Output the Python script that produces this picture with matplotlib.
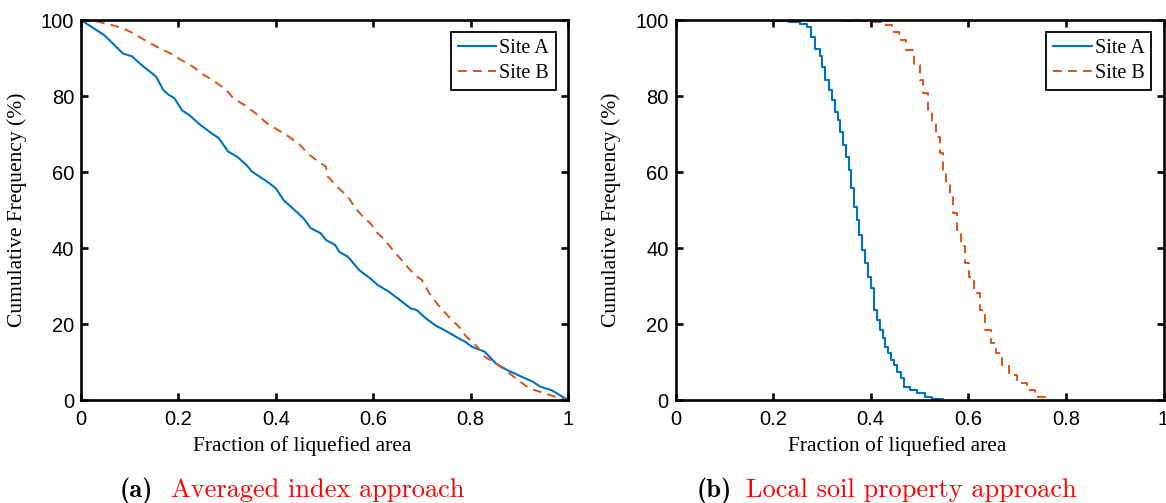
import matplotlib
matplotlib.use("Agg")
import matplotlib.pyplot as plt

# Panel (a): averaged index approach
a_siteA_x = [0.0, 0.048, 0.086, 0.105, 0.124, 0.154, 0.169, 0.18, 0.192, 0.207, 0.222, 0.245, 0.268, 0.283,
             0.302, 0.321, 0.34, 0.351, 0.382, 0.40, 0.416, 0.435, 0.457, 0.472, 0.492, 0.503, 0.522, 0.53,
             0.548, 0.571, 0.594, 0.609, 0.632, 0.655, 0.677, 0.689, 0.708, 0.727, 0.746, 0.776, 0.788,
             0.803, 0.829, 0.852, 0.875, 0.905, 0.928, 0.943, 0.966, 1.0]
a_siteA_y = [100, 96.0, 91.2, 90.4, 88.2, 85.1, 81.6, 80.3, 79.4, 76.3, 75.0, 72.4, 70.2, 68.9,
             65.4, 64.0, 61.8, 60.1, 57.5, 55.7, 52.6, 50.4, 47.8, 45.2, 43.9, 42.1, 40.8, 39.0,
             37.7, 34.2, 32.0, 30.3, 28.5, 26.3, 24.1, 23.7, 21.5, 19.7, 18.4, 16.2, 15.4,
             14.0, 12.7, 9.6, 7.9, 6.1, 4.8, 3.5, 2.6, 0.0]
a_siteB_x = [0.0, 0.033, 0.063, 0.086, 0.108, 0.131, 0.162, 0.184, 0.20, 0.23, 0.253, 0.275, 0.298, 0.313,
             0.336, 0.359, 0.382, 0.404, 0.427, 0.45, 0.465, 0.488, 0.503, 0.507, 0.526, 0.548, 0.564,
             0.579, 0.594, 0.609, 0.624, 0.64, 0.655, 0.67, 0.685, 0.70, 0.715, 0.731, 0.746, 0.761,
             0.776, 0.791, 0.814, 0.829, 0.852, 0.875, 0.897, 0.92, 0.951, 0.973, 1.0]
a_siteB_y = [100, 99.6, 98.7, 97.8, 96.5, 94.7, 92.5, 91.2, 89.9, 87.7, 85.5, 83.8, 81.6, 79.4,
             77.6, 75.4, 72.8, 71.1, 69.3, 67.1, 64.9, 62.7, 61.4, 58.8, 56.1, 53.5, 50.4,
             48.2, 46.5, 43.9, 42.1, 39.5, 37.3, 35.1, 32.9, 31.6, 28.1, 25.4, 23.2, 21.1,
             19.3, 16.7, 14.0, 11.4, 9.6, 7.5, 5.3, 3.1, 1.8, 0.9, 0.0]

# Panel (b): local soil property approach
b_siteA_x = [0.20, 0.232, 0.255, 0.27, 0.277, 0.286, 0.296, 0.301, 0.307, 0.315, 0.32, 0.326, 0.334,
             0.337, 0.343, 0.349, 0.356, 0.36, 0.366, 0.372, 0.377, 0.383, 0.389, 0.394, 0.40, 0.407,
             0.413, 0.42, 0.425, 0.43, 0.435, 0.441, 0.447, 0.454, 0.462, 0.469, 0.48, 0.495, 0.511,
             0.526, 0.548]
b_siteA_y = [99.8, 99.6, 98.9, 98.2, 95.6, 92.5, 90.4, 87.7, 84.2, 81.6, 78.9, 75.9, 73.7,
             70.6, 67.1, 64.0, 60.5, 55.7, 50.9, 47.4, 43.4, 39.5, 36.0, 32.5, 29.4, 23.7,
             21.1, 18.4, 16.2, 14.0, 12.3, 10.5, 9.2, 7.5, 5.7, 3.5, 2.6, 1.8, 0.9,
             0.3, 0.0]
b_siteB_x = [0.345, 0.367, 0.398, 0.428, 0.443, 0.458, 0.473, 0.488, 0.50, 0.507, 0.518, 0.526, 0.533,
             0.541, 0.548, 0.554, 0.562, 0.569, 0.577, 0.586, 0.593, 0.602, 0.612, 0.623, 0.634, 0.646,
             0.657, 0.669, 0.684, 0.699, 0.721, 0.736, 0.759]
b_siteB_y = [99.8, 99.7, 99.4, 98.7, 96.9, 94.7, 92.1, 88.2, 84.2, 80.7, 76.3, 72.8, 69.3,
             64.9, 60.5, 57.0, 53.5, 49.1, 44.7, 40.4, 36.0, 32.5, 28.1, 23.7, 18.4, 14.9,
             12.3, 9.2, 6.6, 4.4, 2.6, 0.9, 0.0]

series_labels = ["Site A", "Site B"]
x_ticks = [0, 0.2, 0.4, 0.6, 0.8, 1]
x_ticklabels = ["0", "0.2", "0.4", "0.6", "0.8", "1"]
y_ticks = [0, 20, 40, 60, 80, 100]
x_label = "Fraction of liquefied area"
y_label = "Cumulative Frequency (%)"
captions = [("(a)", "Averaged index approach"), ("(b)", "Local soil property approach")]

# ---- style ----
BLUE = "#0072BD"
ORANGE = "#D95319"
W, H = 1166, 503
fig = plt.figure(figsize=(W / 100, H / 100), dpi=100)

def frac_box(x0, x1, ytop, ybot):
    return [x0 / W, 1 - ybot / H, (x1 - x0) / W, (ybot - ytop) / H]

axes_boxes = [frac_box(81, 568, 20, 400), frac_box(675.5, 1163.5, 20, 400)]
data = [((a_siteA_x, a_siteA_y), (a_siteB_x, a_siteB_y), "default"),
        ((b_siteA_x, b_siteA_y), (b_siteB_x, b_siteB_y), "steps-post")]

tickfont = dict(family="Liberation Sans", size=14.5)
serif = "Liberation Serif"

for box, (sa, sb, ds), cap, capx in zip(axes_boxes, data, captions, [(120, 171), (697, 746)]):
    ax = fig.add_axes(box)
    ax.plot(sa[0], sa[1], color=BLUE, lw=1.5, drawstyle=ds, label=series_labels[0])
    ax.plot(sb[0], sb[1], color=ORANGE, lw=1.4, ls=(0, (4.5, 3.2)), drawstyle=ds,
            label=series_labels[1])
    ax.set_xlim(0, 1)
    ax.set_ylim(0, 100)
    ax.set_xticks(x_ticks)
    ax.set_xticklabels(x_ticklabels)
    ax.set_yticks(y_ticks)
    for s in ax.spines.values():
        s.set_linewidth(1.9)
    ax.tick_params(direction="in", length=5, width=1.9, top=True, right=True, pad=5)
    ax.tick_params(axis="x", pad=7)
    for lab in ax.get_xticklabels() + ax.get_yticklabels():
        lab.set_fontfamily(tickfont["family"])
        lab.set_fontsize(tickfont["size"])
    ax.set_xlabel(x_label, family=serif, fontsize=15.5)
    ax.xaxis.set_label_coords(0.455, -0.095)
    ax.xaxis.label.set_va("top")
    ax.set_ylabel(y_label, family=serif, fontsize=15.5, labelpad=10)
    leg = ax.legend(loc="upper right", prop=dict(family=serif, size=14.5), fancybox=False,
                    framealpha=1, edgecolor="black", handlelength=1.9, handletextpad=0.15,
                    borderpad=0.35, labelspacing=0.3, borderaxespad=0.6)
    leg.get_frame().set_linewidth(1.3)
    fig.text(capx[0] / W, 1 - 497 / H, cap[0], family="cmb10", fontsize=19, va="baseline",
             ha="left", color="black")
    fig.text(capx[1] / W, 1 - 497 / H, cap[1], family="cmr10", fontsize=19, va="baseline",
             ha="left", color="#FF0000")

fig.savefig("out.png", dpi=100)
